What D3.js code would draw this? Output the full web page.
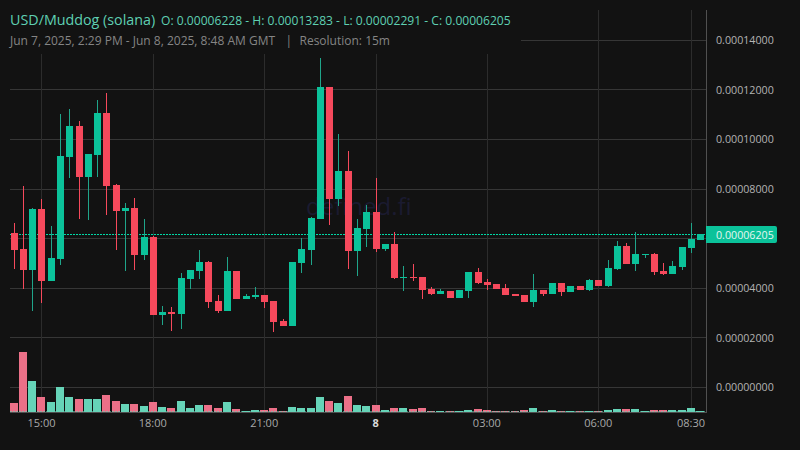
<!DOCTYPE html>
<html>
<head>
<meta charset="utf-8">
<script src="https://d3js.org/d3.v7.min.js"></script>
<style>
  html, body { margin: 0; padding: 0; background: #121212; }
  text { font-family: "Open Sans", "Noto Sans", sans-serif; }
  .axis path, .axis line { display: none; }
</style>
</head>
<body>
<div id="chart"></div>
<script>
// prices are in units of 0.00001, colour comes from close vs open
var times = ["14:15","14:30","14:45","15:00","15:15","15:30","15:45","16:00","16:15","16:30","16:45","17:00","17:15","17:30","17:45",
  "18:00","18:15","18:30","18:45","19:00","19:15","19:30","19:45","20:00","20:15","20:30","20:45","21:00","21:15","21:30","21:45",
  "22:00","22:15","22:30","22:45","23:00","23:15","23:30","23:45","00:00","00:15","00:30","00:45","01:00","01:15","01:30","01:45",
  "02:00","02:15","02:30","02:45","03:00","03:15","03:30","03:45","04:00","04:15","04:30","04:45","05:00","05:15","05:30","05:45",
  "06:00","06:15","06:30","06:45","07:00","07:15","07:30","07:45","08:00","08:15","08:30","08:45"];
var opens = [6.23,5.58,4.73,7.19,4.29,5.18,9.29,10.54,8.48,9.37,11.06,8.16,7.11,7.23,5.34,
  6.06,2.92,3.04,2.96,4.37,4.69,5.06,3.48,3.08,4.69,3.56,3.65,3.73,3.48,2.68,2.48,
  5.02,5.54,6.79,12.11,7.60,8.73,5.50,6.39,7.07,5.58,5.78,4.41,4.45,4.45,3.97,3.77,
  3.89,3.60,3.89,4.65,4.25,4.17,4.01,3.77,3.73,3.44,3.93,3.77,4.21,3.85,4.09,3.93,
  4.33,4.09,4.77,5.70,4.98,5.34,5.38,4.69,4.57,4.85,5.62,5.94];
var highs = [6.63,8.12,7.23,7.60,6.51,11.02,11.22,10.74,9.41,11.59,11.87,8.20,7.43,7.64,6.79,
  6.10,3.28,3.24,4.61,4.73,5.54,5.10,3.73,5.26,4.69,3.77,4.05,3.73,3.48,2.76,5.06,
  6.02,6.87,13.28,12.11,10.22,9.53,6.79,7.35,8.44,5.78,6.27,4.90,4.98,4.45,4.05,3.97,
  3.89,3.93,4.65,4.81,4.37,4.17,4.17,3.77,3.73,4.57,3.93,4.21,4.21,4.09,4.09,4.37,
  4.33,5.14,5.90,5.82,6.27,5.38,5.42,5.02,5.10,5.66,6.63,6.19];
var lows = [4.77,3.97,3.09,3.40,4.29,4.94,8.44,6.79,6.75,8.48,6.95,5.54,4.69,4.73,5.14,
  2.92,2.52,2.27,2.36,3.97,4.37,3.20,3.00,3.08,3.56,3.56,3.56,3.20,2.23,2.48,2.48,
  4.61,4.94,6.79,6.55,7.31,4.77,4.49,5.66,5.46,5.50,4.37,3.89,4.29,3.56,3.73,3.77,
  3.60,3.60,3.60,4.17,3.93,3.97,3.73,3.69,3.44,3.24,3.69,3.77,3.69,3.85,3.93,3.89,
  4.09,4.05,4.73,4.98,4.69,5.22,4.53,4.53,4.57,4.73,5.42,5.94];
var closes = [5.54,4.73,7.19,4.29,5.22,9.33,10.54,8.48,9.41,11.06,8.12,7.11,7.23,5.34,6.06,
  2.92,3.04,2.96,4.41,4.73,5.06,3.44,3.08,4.69,3.56,3.69,3.73,3.44,2.64,2.48,5.06,
  5.58,6.83,12.11,7.60,8.73,5.50,6.43,7.07,5.58,5.78,4.41,4.45,4.41,3.93,3.77,3.89,
  3.60,3.93,4.65,4.21,4.13,3.97,3.73,3.69,3.44,3.93,3.77,4.21,3.85,4.09,3.93,4.33,
  4.09,4.81,5.70,4.98,5.38,5.38,4.65,4.57,4.90,5.66,5.98,6.19];
var volumes = [9,60,31,15,10,25,15,13,13,13,17,11,8,8,6,10,5,4,11,4,7,7,4,10,3,1,2,2,4,1,5,
  4,4,15,11,9,16,7,6,7,2,4,4,3,4,1,1,1,1,2,3,2,1,1,1,2,4,1,2,1,1,1,1,
  1,2,3,3,3,1,2,2,2,2,4,1];
var priceTicks = [0,2,4,6,8,10,12,14];
var priceLabels = [0,2,4,8,10,12,14]; // 6 sits under the last price tag
var timeTicks = ["15:00","18:00","21:00","00:00","03:00","06:00","08:30"];
var lastPrice = 6.205;

var width = 800, height = 450;
var bg = "#121212", up = "#0bc29a", down = "#f6495c", upVol = "#66d4b8", downVol = "#ec7088";
var left = 10, right = 706, top_ = 10, bottom = 412;

var svg = d3.select("#chart").append("svg")
    .attr("width", width)
    .attr("height", height)
    .style("display", "block");

svg.append("rect").attr("width", width).attr("height", height).attr("fill", bg);

var x = d3.scalePoint().domain(times).range([14.1, 700.82]);
var y = d3.scaleLinear().domain([0, 14]).range([387.4, 40.2]);
var yVol = d3.scaleLinear().domain([0, 60]).range([412, 352]);

function px(i) { return Math.floor(x(times[i])); }
function py(v) { return Math.round(y(v)); }

// grid
svg.append("g").selectAll("line").data(priceTicks).enter().append("line")
    .attr("x1", left).attr("x2", right)
    .attr("y1", function(d) { return Math.floor(y(d)) + 0.5; })
    .attr("y2", function(d) { return Math.floor(y(d)) + 0.5; })
    .attr("stroke", "#363636");
svg.append("g").selectAll("line").data(timeTicks).enter().append("line")
    .attr("x1", function(d) { return Math.floor(x(d)) + 0.5; })
    .attr("x2", function(d) { return Math.floor(x(d)) + 0.5; })
    .attr("y1", top_).attr("y2", bottom)
    .attr("stroke", "#2c2c2c");

// legend panel hides the grid behind the header
svg.append("rect").attr("x", left).attr("y", top_).attr("width", 511).attr("height", 44).attr("fill", bg);

svg.append("text")
    .attr("x", 306).attr("y", 215)
    .attr("font-size", 24)
    .attr("fill", "#1b1b30")
    .text("defined.fi");

svg.append("line")
    .attr("x1", left).attr("x2", right)
    .attr("y1", py(lastPrice) + 0.5).attr("y2", py(lastPrice) + 0.5)
    .attr("stroke", "#00d8a6")
    .attr("stroke-dasharray", "2,1");

// volume
svg.append("g").selectAll("rect").data(volumes).enter().append("rect")
    .attr("x", function(d, i) { return px(i) - 4; })
    .attr("y", function(d) { return yVol(d); })
    .attr("width", 8)
    .attr("height", function(d) { return yVol(0) - yVol(d); })
    .attr("fill", function(d, i) { return closes[i] >= opens[i] ? upVol : downVol; });

svg.append("line")
    .attr("x1", left).attr("x2", right)
    .attr("y1", 411.5).attr("y2", 411.5)
    .attr("stroke", upVol)
    .attr("stroke-opacity", 0.6)
    .attr("stroke-dasharray", "2,1");

// candles
var candle = svg.append("g").selectAll("g").data(times).enter().append("g");
candle.append("rect")
    .attr("x", function(d, i) { return px(i); })
    .attr("y", function(d, i) { return py(highs[i]); })
    .attr("width", 1)
    .attr("height", function(d, i) { return py(lows[i]) - py(highs[i]); })
    .attr("fill", function(d, i) { return closes[i] >= opens[i] ? "#1fa58a" : "#f6495c"; });
candle.append("rect")
    .attr("x", function(d, i) { return px(i) - 3; })
    .attr("y", function(d, i) { return py(Math.max(opens[i], closes[i])); })
    .attr("width", 7)
    .attr("height", function(d, i) { return Math.max(1, py(Math.min(opens[i], closes[i])) - py(Math.max(opens[i], closes[i]))); })
    .attr("fill", function(d, i) { return closes[i] >= opens[i] ? up : down; });

// frame
svg.append("line").attr("x1", right + 0.5).attr("x2", right + 0.5).attr("y1", top_).attr("y2", bottom + 1).attr("stroke", "#505050");
svg.append("line").attr("x1", left).attr("x2", right).attr("y1", bottom + 0.5).attr("y2", bottom + 0.5).attr("stroke", "#505050");

// axes
var yAxis = svg.append("g")
    .attr("class", "axis")
    .attr("transform", "translate(" + right + ",0)")
    .call(d3.axisRight(y).tickValues(priceLabels).tickSize(0).tickPadding(10)
      .tickFormat(function(d) { return d3.format(".8f")(d * 1e-5); }));
yAxis.selectAll("text").attr("font-size", 10.7).attr("fill", "#b4b4b4").style("font-family", "'Open Sans'");

var xAxis = svg.append("g")
    .attr("class", "axis")
    .attr("transform", "translate(-1," + bottom + ")")
    .call(d3.axisBottom(x).tickValues(timeTicks).tickSize(0).tickPadding(7)
      .tickFormat(function(d) { return d === "00:00" ? "8" : d; }));
xAxis.selectAll("text")
    .attr("font-size", 11)
    .attr("fill", function(d) { return d === "00:00" ? "#d8d8d8" : "#a8a8a8"; })
    .attr("font-weight", function(d) { return d === "00:00" ? "bold" : "normal"; })
    .style("font-family", "'Open Sans'");

// last price label
svg.append("path")
    .attr("d", "M706,226H775a2,2 0 0 1 2,2V241a2,2 0 0 1 -2,2H706Z")
    .attr("fill", up);
svg.append("text")
    .attr("x", 716).attr("y", 238.5)
    .attr("font-size", 10.7)
    .attr("fill", "#e4f7f1")
    .text(d3.format(".8f")(lastPrice * 1e-5));

// header
svg.append("text").attr("x", 10).attr("y", 24.5).attr("font-size", 14.3).attr("fill", "#5fd0b2")
    .text("USD/Muddog (solana)");
svg.append("text").attr("x", 161).attr("y", 24.5).attr("font-size", 12.1).attr("fill", "#5fd0b2")
    .text("O: 0.00006228 - H: 0.00013283 - L: 0.00002291 - C: 0.00006205");
svg.append("text").attr("x", 10).attr("y", 45).attr("font-size", 12).attr("fill", "#858585")
    .text("Jun 7, 2025, 2:29 PM - Jun 8, 2025, 8:48 AM GMT");
svg.append("text").attr("x", 285.5).attr("y", 45).attr("font-size", 12).attr("fill", "#858585")
    .text("|");
svg.append("text").attr("x", 299.5).attr("y", 45).attr("font-size", 12).attr("fill", "#858585")
    .text("Resolution: 15m");
</script>
</body>
</html>
